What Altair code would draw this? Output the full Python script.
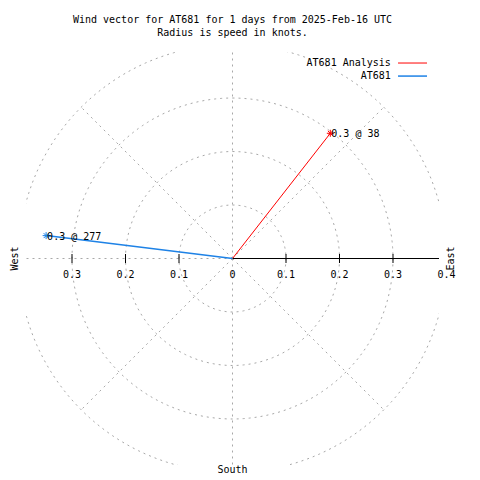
import math
import altair as alt
import pandas as pd

# ---------------- data ----------------
title_lines = ["Wind vector for AT681 for 1 days from 2025-Feb-16 UTC",
               "Radius is speed in knots."]

series = ["AT681 Analysis", "AT681"]
speeds = [0.297, 0.351]          # knots
directions = [38, 277]           # degrees from north
point_labels = ["0.3 @ 38", "0.3 @ 277"]
series_colors = ["#ff0000", "#1e82e6"]
series_widths = [1.0, 1.5]

ring_radii = [0.1, 0.2, 0.3, 0.4]
spoke_angles = [0, 45, 90, 135, 180, 225, 270, 315]
tick_values = [-0.3, -0.2, -0.1, 0.1, 0.2, 0.3]
tick_label_values = [-0.3, -0.2, -0.1, 0.0, 0.1, 0.2, 0.3, 0.4]
tick_label_texts = ["0.3", "0.2", "0.1", "0", "0.1", "0.2", "0.3", "0.4"]

compass_names = ["West", "East", "South"]

# ---------------- layout constants ----------------
EXT = 0.386
FONT = "DejaVu Sans Mono"
GRID = "#a8a8a8"

xs = alt.Scale(domain=[-EXT, EXT], nice=False, zero=False)
ys = alt.Scale(domain=[-EXT, EXT], nice=False, zero=False)

def X(f, **kw):
    return alt.X(f, type="quantitative", scale=xs, axis=None, **kw)

def Y(f, **kw):
    return alt.Y(f, type="quantitative", scale=ys, axis=None, **kw)

# rings
ring_rows = []
for r in ring_radii:
    for k in range(0, 361, 2):
        a = math.radians(k)
        ring_rows.append({"ring": r, "k": k, "x": r * math.sin(a), "y": r * math.cos(a)})
ring_df = pd.DataFrame(ring_rows)

rings = alt.Chart(ring_df).mark_line(
    color=GRID, strokeWidth=1, strokeDash=[2, 4], clip=True
).encode(x=X("x"), y=Y("y"), detail="ring:N", order="k:Q")

# spokes
spoke_df = pd.DataFrame({"ang": spoke_angles})
spokes = alt.Chart(spoke_df).transform_calculate(
    x0="0", y0="0",
    x1=f"{max(ring_radii)} * sin(datum.ang * PI / 180)",
    y1=f"{max(ring_radii)} * cos(datum.ang * PI / 180)",
).mark_rule(color=GRID, strokeWidth=1, strokeDash=[2, 4], clip=True).encode(
    x=X("x0"), y=Y("y0"), x2="x1:Q", y2="y1:Q"
)

# east axis line
axis_df = pd.DataFrame({"x0": [0.0], "x1": [max(ring_radii)], "y0": [0.0]})
axis_line = alt.Chart(axis_df).mark_rule(color="black", strokeWidth=1, clip=True).encode(
    x=X("x0"), x2="x1:Q", y=Y("y0")
)

tick_df = pd.DataFrame({"v": tick_values, "z": [0.0] * len(tick_values)})
ticks = alt.Chart(tick_df).mark_tick(
    orient="vertical", size=9, thickness=1, color="black", opacity=1
).encode(x=X("v"), y=Y("z"))

tl_df = pd.DataFrame({"v": tick_label_values, "t": tick_label_texts,
                      "z": [0.0] * len(tick_label_values)})
tick_labels = alt.Chart(tl_df).mark_text(
    font=FONT, fontSize=10, color="black", align="center", baseline="middle", dy=16
).encode(x=X("v"), y=Y("z"), text="t:N")

# compass labels
comp_df = pd.DataFrame({"name": compass_names,
                        "cx": [-0.407, 0.4075, 0.0],
                        "cy": [0.0, 0.0, -0.395],
                        "ang": [270, 270, 0]})
compass = alt.Chart(comp_df).mark_text(
    font=FONT, fontSize=10, color="black", align="center", baseline="middle"
).encode(x=X("cx"), y=Y("cy"), text="name:N", angle=alt.Angle("ang:Q", scale=None))

# vectors
vec_df = pd.DataFrame({"series": series, "speed": speeds, "dir": directions,
                       "label": point_labels})
vec_base = alt.Chart(vec_df).transform_calculate(
    x0="0", y0="0",
    vx="datum.speed * sin(datum.dir * PI / 180)",
    vy="datum.speed * cos(datum.dir * PI / 180)",
)
color_enc = alt.Color("series:N", scale=alt.Scale(domain=series, range=series_colors), legend=None)
width_enc = alt.StrokeWidth("series:O", scale=alt.Scale(domain=series, range=series_widths), legend=None)

vec_lines = vec_base.mark_rule().encode(
    x=X("x0"), y=Y("y0"), x2="vx:Q", y2="vy:Q", color=color_enc, strokeWidth=width_enc
)
ASTERISK = "M-1,0L1,0M0,-1L0,1M-0.7,-0.7L0.7,0.7M-0.7,0.7L0.7,-0.7"
vec_marks = vec_base.mark_point(shape=ASTERISK, size=49, filled=False, strokeWidth=1, opacity=1).encode(
    x=X("vx"), y=Y("vy"), stroke=alt.Stroke("series:N", scale=alt.Scale(domain=series, range=series_colors), legend=None)
)
vec_text = vec_base.mark_text(
    font=FONT, fontSize=10, color="black", align="left", baseline="middle", dx=1, dy=1
).encode(x=X("vx"), y=Y("vy"), text="label:N")

# manual legend
leg_df = pd.DataFrame({"series": series, "ly": [0.3654, 0.341],
                       "tx": [0.296, 0.296], "lx0": [0.3094, 0.3094], "lx1": [0.3636, 0.3636]})
leg_text = alt.Chart(leg_df).mark_text(
    font=FONT, fontSize=10, color="black", align="right", baseline="middle"
).encode(x=X("tx"), y=Y("ly"), text="series:N")
leg_lines = alt.Chart(leg_df).mark_rule().encode(
    x=X("lx0"), x2="lx1:Q", y=Y("ly"), color=color_enc, strokeWidth=width_enc
)

chart = alt.layer(
    rings, spokes, axis_line, ticks, tick_labels, compass,
    vec_lines, vec_marks, vec_text, leg_text, leg_lines
).properties(
    width=413, height=413,
    padding={"left": 18, "top": 44, "right": 33, "bottom": 12},
    autosize=alt.AutoSizeParams(type="none"),
    title=alt.TitleParams(text=title_lines, font=FONT, fontSize=10, fontWeight="normal",
                          anchor="middle", frame="group", offset=14, lineHeight=13,
                          color="black"),
).configure(background="white").configure_view(strokeWidth=0, stroke="transparent")

chart.save("out.html", embed_options={"renderer": "svg", "actions": False})
